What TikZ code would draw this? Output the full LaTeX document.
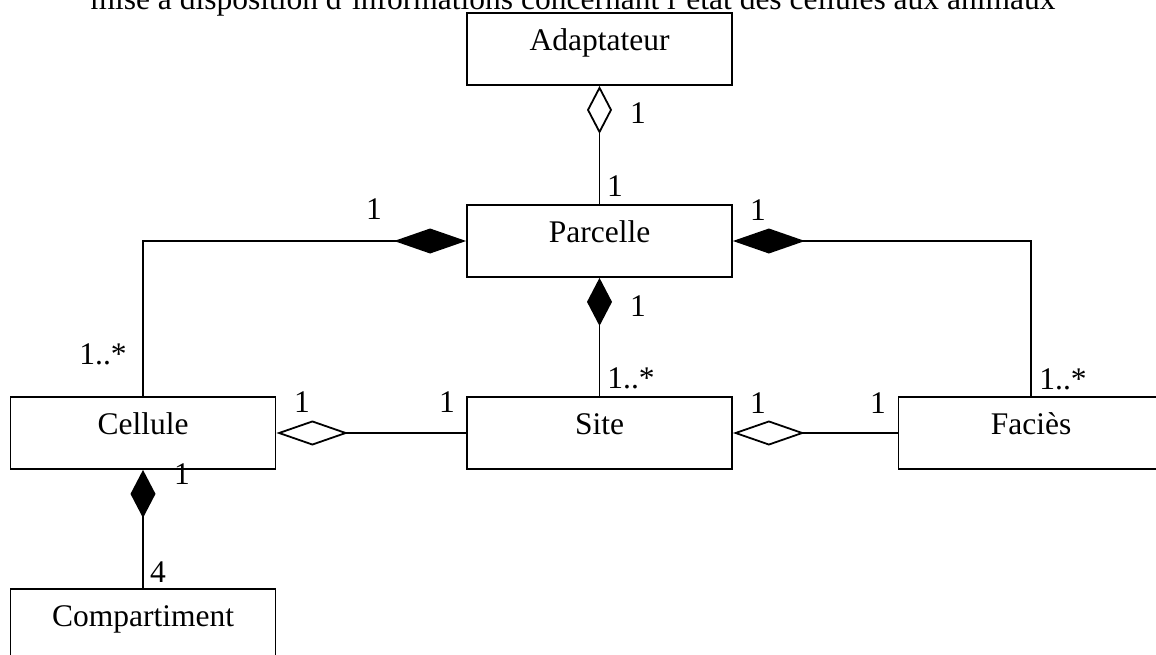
\documentclass[tikz,border=0pt]{standalone}
\usepackage{fontspec}
\setmainfont{Liberation Serif}
\usetikzlibrary{arrows.meta}

\tikzset{
  classbox/.style={draw, line width=1.8pt, minimum width=265pt, minimum height=72pt,
    inner sep=0pt, text height=0.7em, text depth=0.35em},
  link/.style={line width=1.8pt},
  mult/.style={inner sep=0pt, anchor=center},
  compH/.style={-{Diamond[length=72pt,width=25pt]}},
  aggH/.style={-{Diamond[open,length=72pt,width=25pt]}},
  compV/.style={-{Diamond[length=48pt,width=25pt]}},
  aggV/.style={-{Diamond[open,length=48pt,width=25pt]}},
}

\begin{document}
\begin{tikzpicture}[x=1pt, y=-1pt, font=\fontsize{31.5}{38}\selectfont]
  \useasboundingbox (0,0) rectangle (1156,655);
  \clip (0,0) rectangle (1156,655);

  % caption line, partly above the page
  \node[anchor=base, inner sep=0pt] (caption) at (573,10)
    {mise à disposition d'informations concernant l'état des cellules aux animaux};

  % classes
  \node[classbox] (adapt) at (599.5,49)  {Adaptateur};
  \node[classbox] (parc)  at (599.5,241) {Parcelle};
  \node[classbox] (cell)  at (143,433)   {Cellule};
  \node[classbox] (site)  at (599.5,433) {Site};
  \node[classbox] (fac)   at (1031,433)  {Faciès};
  \node[classbox] (comp)  at (143,625)   {Compartiment};

  % associations
  \draw[link, aggV]  (parc.north) -- (adapt.south);
  \draw[link, compH] (cell.north) |- (parc.west);
  \draw[link, compH] (fac.north)  |- (parc.east);
  \draw[link, compV] (site.north) -- (parc.south);
  \draw[link, aggH]  (site.west)  -- (cell.east);
  \draw[link, aggH]  (fac.west)   -- (site.east);
  \draw[link, compV] (comp.north) -- (cell.south);

  % multiplicities
  \node[mult] (m1)  at (638,113)  {1};
  \node[mult] (m2)  at (615,186)  {1};
  \node[mult] (m3)  at (374,209)  {1};
  \node[mult] (m4)  at (103,354)  {1..*};
  \node[mult] (m5)  at (758,210)  {1};
  \node[mult] (m6)  at (1063,379) {1..*};
  \node[mult] (m7)  at (638,306)  {1};
  \node[mult] (m8)  at (631,378)  {1..*};
  \node[mult] (m9)  at (302,402)  {1};
  \node[mult] (m10) at (447,402)  {1};
  \node[mult] (m11) at (758,403)  {1};
  \node[mult] (m12) at (878,403)  {1};
  \node[mult] (m13) at (182,474)  {1};
  \node[mult] (m14) at (158,572)  {4};
\end{tikzpicture}
\end{document}
